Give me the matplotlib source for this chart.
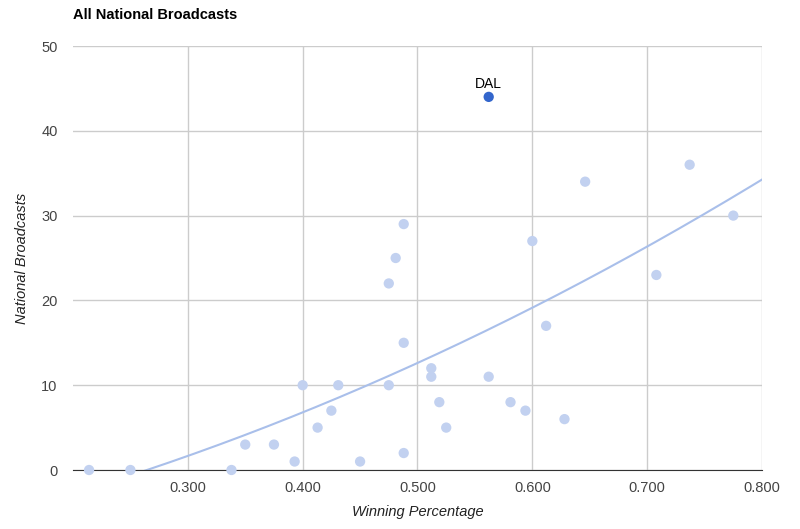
import numpy as np
import matplotlib.pyplot as plt

plt.rcParams['font.family'] = ['Liberation Sans', 'DejaVu Sans']

# winning percentage vs national broadcasts
win_pct = [0.214, 0.250, 0.338, 0.350, 0.375, 0.393, 0.400, 0.413, 0.425, 0.431,
           0.450, 0.475, 0.475, 0.481, 0.488, 0.488, 0.488, 0.512, 0.512, 0.519,
           0.525, 0.562, 0.581, 0.594, 0.600, 0.612, 0.628, 0.646, 0.708, 0.737,
           0.775]
broadcasts = [0, 0, 0, 3, 3, 1, 10, 5, 7, 10,
              1, 10, 22, 25, 29, 15, 2, 12, 11, 8,
              5, 11, 8, 7, 27, 17, 6, 34, 23, 36,
              30]
hl_team = 'DAL'
hl_x = 0.562
hl_y = 44

xticks = [0.3, 0.4, 0.5, 0.6, 0.7, 0.8]
yticks = [0, 10, 20, 30, 40, 50]

fig = plt.figure(figsize=(8, 5.29), dpi=100)
ax = fig.add_axes([73/800, 59/529, 689/800, 424/529])

# polynomial trendline over all points (incl. highlighted one)
allx = np.array(win_pct + [hl_x])
ally = np.array(broadcasts + [hl_y])
coef = np.polyfit(allx, ally, 2)
tx = np.linspace(0.2, 0.8, 200)
ty = np.polyval(coef, tx)
ax.plot(tx, ty, color='#a9bfea', lw=1.5, zorder=2, clip_on=True)

ax.scatter(win_pct, broadcasts, s=55, color='#c2d1f0', edgecolors='none', zorder=3, clip_on=False)
ax.scatter([hl_x], [hl_y], s=55, color='#3366cc', edgecolors='none', zorder=4)
ax.text(hl_x, hl_y + 0.7, hl_team, ha='center', va='bottom', fontsize=10, color='#000000')

ax.set_xlim(0.2, 0.8)
ax.set_ylim(0, 50)
ax.set_xticks(xticks)
ax.set_xticklabels(['%.3f' % v for v in xticks])
ax.set_yticks(yticks)
ax.grid(True, color='#cccccc', lw=1)
ax.set_axisbelow(True)
for s in ['top', 'right', 'left']:
    ax.spines[s].set_visible(False)
ax.spines['bottom'].set_color('#333333')
ax.tick_params(length=0, labelsize=10.5, colors='#444444', pad=8)
ax.tick_params(axis='y', pad=11)

ax.set_xlabel('Winning Percentage', fontsize=10.5, style='italic', color='#222222', labelpad=7)
ax.set_ylabel('National Broadcasts', fontsize=10.5, style='italic', color='#222222', labelpad=9)
fig.text(73/800, 1 - 15/529, 'All National Broadcasts', fontsize=10.5, fontweight='bold',
         va='center', ha='left', color='#000000')

fig.savefig('out.png')
